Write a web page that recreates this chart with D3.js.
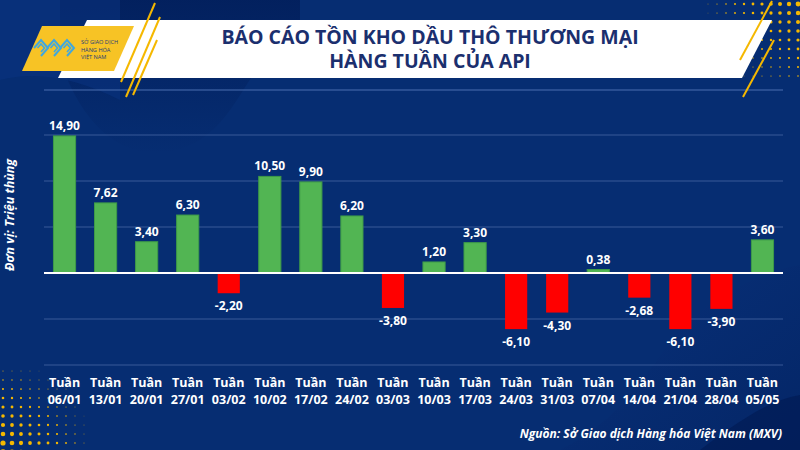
<!DOCTYPE html>
<html><head><meta charset="utf-8">
<script src="https://cdn.jsdelivr.net/npm/d3@7"></script>
<style>
html,body{margin:0;padding:0;background:#062d72;}
svg{display:block;font-family:"Open Sans",sans-serif;}
</style></head>
<body>
<svg id="c" width="800" height="450"></svg>
<script>
const categories = ["06/01","13/01","20/01","27/01","03/02","10/02","17/02","24/02","03/03","10/03","17/03","24/03","31/03","07/04","14/04","21/04","28/04","05/05"];
const values = [14.90,7.62,3.40,6.30,-2.20,10.50,9.90,6.20,-3.80,1.20,3.30,-6.10,-4.30,0.38,-2.68,-6.10,-3.90,3.60];
const yTicks = [-10,-5,0,5,10,15];
const titleLines = ["BÁO CÁO TỒN KHO DẦU THÔ THƯƠNG MẠI","HÀNG TUẦN CỦA API"];
const unitLabel = "Đơn vị: Triệu thùng";
const sourceLabel = "Nguồn: Sở Giao dịch Hàng hóa Việt Nam (MXV)";
const logoLines = ["SỞ GIAO DỊCH","HÀNG HÓA","VIỆT NAM"];

const svg = d3.select("#c");
const W=800,H=450;
const defs = svg.append("defs");
const g1 = defs.append("linearGradient").attr("id","wave").attr("x1","0").attr("y1","0").attr("x2","0").attr("y2","1");
g1.append("stop").attr("offset","0").attr("stop-color","#021f5c");
g1.append("stop").attr("offset","1").attr("stop-color","#062d72");
const g2 = defs.append("linearGradient").attr("id","wave2").attr("x1","0").attr("y1","0").attr("x2","1").attr("y2","1");
g2.append("stop").attr("offset","0").attr("stop-color","#0a3480");
g2.append("stop").attr("offset","1").attr("stop-color","#03215f");

// background
svg.append("rect").attr("width",W).attr("height",H).attr("fill","#062d72");
svg.append("path").attr("d","M60,60 C90,150 150,170 200,140 C240,115 250,60 300,20 L300,0 L60,0 Z").attr("fill","url(#wave)").attr("opacity",0.9);
svg.append("path").attr("d","M0,80 C40,70 80,80 120,100 L120,0 L0,0 Z").attr("fill","#0a3482").attr("opacity",0.5);
svg.append("path").attr("d","M560,450 C620,420 640,380 680,330 C720,290 770,270 800,265 L800,450 Z").attr("fill","url(#wave2)").attr("opacity",0.6);
svg.append("path").attr("d","M700,450 C740,420 770,400 800,395 L800,450 Z").attr("fill","#021b55").attr("opacity",0.7);

// halftone dots
const dotsG = svg.append("g").attr("fill","#f5b800");
for(let i=0;i<14;i++){for(let j=0;j<9;j++){
  const x=690+i*9, y=4+j*9;
  const r=Math.max(0,(i/13)*2.6*(1-j/12));
  if(r>0.3) dotsG.append("circle").attr("cx",x).attr("cy",y).attr("r",r);
}}
for(let i=0;i<12;i++){for(let j=0;j<11;j++){
  const x=3+i*9, y=362+j*9;
  const r=Math.max(0,(1-i/11)*2.6*(j/10+0.1));
  if(r>0.3) dotsG.append("circle").attr("cx",x).attr("cy",y).attr("r",r);
}}

// header banner
svg.append("path").attr("d","M87,20 L772,20 L742,78 L58,78 Z").attr("fill","#ffffff");
svg.append("line").attr("x1",44).attr("x2",783).attr("y1",90).attr("y2",90).attr("stroke","#4a6fb0").attr("stroke-width",1);
// logo
svg.append("path").attr("d","M42,26 L134,26 L114,71 L22,71 Z").attr("fill","#f7c325");
const lg = svg.append("g").attr("fill","none").attr("stroke","#3fa7e0").attr("stroke-width",2);
for(let k=0;k<3;k++){
  const ox=34+k*13;
  lg.append("path").attr("d",`M${ox},48 L${ox+7},40 L${ox+14},48 L${ox+7},56`);
  lg.append("path").attr("d",`M${ox+3.5},48 L${ox+7},44 L${ox+10.5},48 L${ox+7},52`).attr("stroke-width",1.6);
}
logoLines.forEach((t,i)=>svg.append("text").attr("x",81).attr("y",44+i*7.5).attr("font-size",5.6).attr("fill","#233a7a").text(t));
// yellow slashes
const sl = svg.append("g").attr("stroke","#f5b800").attr("stroke-width",2);
sl.append("line").attr("x1",155).attr("y1",3).attr("x2",121).attr("y2",82);
sl.append("line").attr("x1",160).attr("y1",17).attr("x2",126).attr("y2",97);
sl.append("line").attr("x1",157).attr("y1",40).attr("x2",133).attr("y2",95);
sl.append("line").attr("x1",772).attr("y1",1).attr("x2",740).attr("y2",60);
sl.append("line").attr("x1",774).attr("y1",40).attr("x2",743).attr("y2",97);

// title
titleLines.forEach((t,i)=>svg.append("text").attr("x",430).attr("y",44+i*24).attr("text-anchor","middle")
  .attr("font-size",19.5).attr("font-weight",700).attr("fill","#1b2f6e").text(t));

// chart
const x = d3.scaleBand().domain(categories).range([44,783]).paddingInner(0.46).paddingOuter(0.23);
const y = d3.scaleLinear().domain([-10,15]).range([365,135]);

const grid = svg.append("g");
grid.selectAll("line").data(yTicks.filter(d=>d!==0)).join("line")
  .attr("x1",44).attr("x2",783).attr("y1",d=>y(d)).attr("y2",d=>y(d))
  .attr("stroke","#5a78b5").attr("stroke-opacity",0.6).attr("stroke-width",1.2);

svg.append("g").selectAll("rect").data(values).join("rect")
  .attr("x",(d,i)=>x(categories[i])).attr("width",x.bandwidth())
  .attr("y",d=>d>=0?y(d):y(0)).attr("height",d=>Math.abs(y(d)-y(0)))
  .attr("fill",d=>d>=0?"#52b553":"#ff0000")
  .attr("stroke",d=>d>=0?"#3e9a48":"none").attr("stroke-width",1);

svg.append("line").attr("x1",44).attr("x2",783).attr("y1",y(0)).attr("y2",y(0)).attr("stroke","#ffffff").attr("stroke-width",2);

const fmt = d=>d.toFixed(2).replace(".",",");
svg.append("g").selectAll("text").data(values).join("text")
  .attr("x",(d,i)=>x(categories[i])+x.bandwidth()/2)
  .attr("y",d=>d>=0?y(d)-6:y(d)+17)
  .attr("text-anchor","middle").attr("font-size",12).attr("font-weight",700).attr("fill","#ffffff")
  .text(fmt);

// x axis labels
const xl = svg.append("g").attr("font-size",12.5).attr("font-weight",700).attr("fill","#ffffff").attr("text-anchor","middle");
categories.forEach(c=>{
  const cx = x(c)+x.bandwidth()/2;
  xl.append("text").attr("x",cx).attr("y",387).text("Tuần");
  xl.append("text").attr("x",cx).attr("y",404).text(c);
});

// unit label
svg.append("text").attr("transform","translate(14,215) rotate(-90)").attr("text-anchor","middle")
  .attr("font-size",12.5).attr("font-weight",700).attr("font-style","italic").attr("fill","#ffffff").text(unitLabel);

// source
svg.append("text").attr("x",782).attr("y",438).attr("text-anchor","end")
  .attr("font-size",12).attr("font-weight",700).attr("font-style","italic").attr("fill","#ffffff").text(sourceLabel);
</script>
</body></html>
